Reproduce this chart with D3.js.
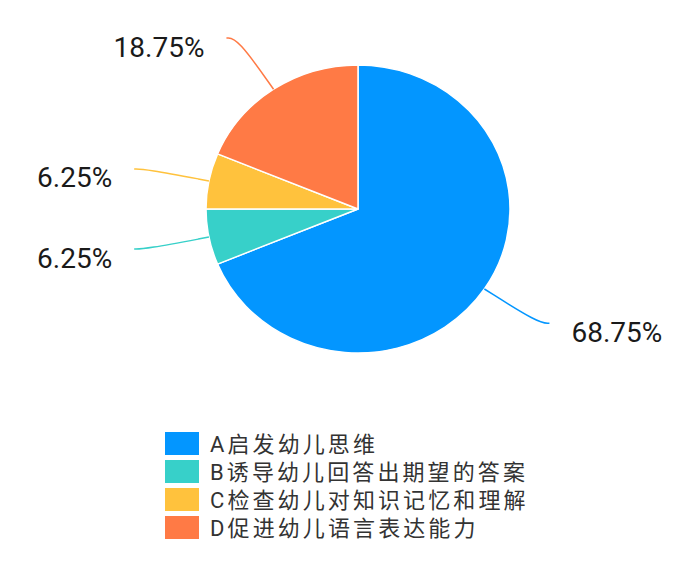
<!DOCTYPE html>
<html>
<head>
<meta charset="utf-8">
<script src="https://cdn.jsdelivr.net/npm/d3@7"></script>
<style>
  body { margin: 0; background: #fff; }
</style>
</head>
<body>
<div class="chart"></div>
<script>
var categories = ["A启发幼儿思维", "B诱导幼儿回答出期望的答案", "C检查幼儿对知识记忆和理解", "D促进幼儿语言表达能力"];
var values = [68.75, 6.25, 6.25, 18.75];
var labels = ["68.75%", "6.25%", "6.25%", "18.75%"];
var colors = ["#0396ff", "#37d0c9", "#ffc23d", "#ff7a45"];

var width = 693, height = 575;
var cx = 358, cy = 209;
var r = 152, ry = 144;       // pie is slightly squashed vertically
var sy = ry / r;
var r1 = 217, len2 = 11;     // label line: bend radius, horizontal tail

var svg = d3.select(".chart").append("svg")
    .attr("width", width)
    .attr("height", height);

var data = categories.map(function(c, i) {
  return { name: c, value: values[i], label: labels[i], color: colors[i] };
});

var pie = d3.pie().sort(null).value(function(d) { return d.value; });
var arcs = pie(data);

var arc = d3.arc().innerRadius(0).outerRadius(r);

var g = svg.append("g")
    .attr("transform", "translate(" + cx + "," + cy + ") scale(1," + sy + ")");

g.selectAll("path.slice")
  .data(arcs)
  .enter()
  .append("path")
  .attr("class", "slice")
  .attr("d", arc)
  .attr("fill", function(d) { return d.data.color; })
  .attr("stroke", "#fff")
  .attr("stroke-width", 1.5)
  .attr("stroke-linejoin", "round");

// label lines and texts in page coordinates
function pt(a, rad) {
  return [cx + Math.sin(a) * rad, cy - Math.cos(a) * rad * sy];
}

var line = d3.line().curve(d3.curveBasis);

arcs.forEach(function(d) {
  var a = (d.startAngle + d.endAngle) / 2;
  var right = Math.sin(a) > 0;
  var p0 = pt(a, r);
  var p1 = pt(a, r1);
  var p2 = [p1[0] + (right ? len2 : -len2), p1[1]];

  svg.append("path")
    .attr("d", line([p0, p1, p2]))
    .attr("fill", "none")
    .attr("stroke", d.data.color)
    .attr("stroke-width", 1.5);

  svg.append("text")
    .attr("x", p2[0] + (right ? 22 : -22))
    .attr("y", p2[1] + 9)
    .attr("dominant-baseline", "central")
    .attr("text-anchor", right ? "start" : "end")
    .attr("font-family", "Roboto, 'Noto Sans', sans-serif")
    .attr("font-size", 28)
    .attr("fill", "#1a1a1a")
    .text(d.data.label);
});

// legend
var legend = svg.append("g").attr("transform", "translate(165,432)");
var rows = legend.selectAll("g.row")
  .data(data)
  .enter()
  .append("g")
  .attr("class", "row")
  .attr("transform", function(d, i) { return "translate(0," + (i * 28) + ")"; });

rows.append("rect")
  .attr("width", 34)
  .attr("height", 23)
  .attr("fill", function(d) { return d.color; });

rows.append("text")
  .attr("x", 45)
  .attr("y", 12)
  .attr("dominant-baseline", "central")
  .attr("font-family", "Roboto, 'Noto Sans CJK SC', sans-serif")
  .attr("font-size", 22)
  .attr("letter-spacing", 3.1)
  .attr("fill", "#333")
  .text(function(d) { return d.name; });
</script>
</body>
</html>
